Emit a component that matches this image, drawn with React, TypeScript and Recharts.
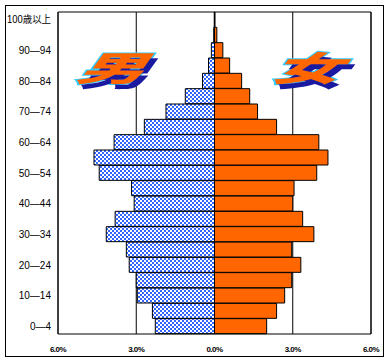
import {
  BarChart,
  Bar,
  XAxis,
  YAxis,
  CartesianGrid,
} from "recharts";

// 年齢階級（下から上へ）
const ageGroups = [
  "0—4", "5—9", "10—14", "15—19", "20—24", "25—29", "30—34", "35—39",
  "40—44", "45—49", "50—54", "55—59", "60—64", "65—69", "70—74",
  "75—79", "80—84", "85—89", "90—94", "95—99", "100歳以上",
];

// 構成比（%）
const maleShare = [
  2.27, 2.38, 2.96, 3.0, 3.27, 3.38, 4.15, 3.81, 3.08, 3.18, 4.42,
  4.62, 3.85, 2.69, 1.86, 1.12, 0.46, 0.23, 0.12, 0.03, 0.01,
];
const femaleShare = [
  2.0, 2.38, 2.69, 2.96, 3.31, 2.96, 3.81, 3.38, 3.0, 3.05, 3.92,
  4.35, 4.0, 2.38, 1.65, 1.35, 1.04, 0.58, 0.32, 0.09, 0.02,
];

const xTicks = [-6, -3, 0, 3, 6];

const data = ageGroups.map((age, i) => ({
  age,
  male: -maleShare[i],
  female: femaleShare[i],
}));

const wordArt = (left: number): React.CSSProperties => ({
  position: "absolute",
  left,
  top: 40,
  fontFamily: "'Noto Sans CJK JP', sans-serif",
  fontWeight: 900,
  fontSize: 36,
  lineHeight: "40px",
  color: "#ff6600",
  WebkitTextStroke: "2px #33ccff",
  paintOrder: "stroke fill",
  textShadow: "4px 5px 0 #1a1aa0",
  transform: "scale(1.9, 0.95) skewX(-20deg)",
  transformOrigin: "center",
  pointerEvents: "none",
});

const AgeTick = (props: any) => {
  const { x, y, payload, index } = props;
  if (index % 2 !== 0) return null;
  const label = String(payload.value);
  const long = label.length > 5;
  return (
    <text
      x={x}
      y={y}
      dy="0.36em"
      textAnchor="end"
      fill="#000"
      fontSize={10}
      fontFamily="'Liberation Sans', 'Noto Sans CJK JP', sans-serif"
      textLength={long ? 44 : undefined}
      lengthAdjust={long ? "spacingAndGlyphs" : undefined}
    >
      {label}
    </text>
  );
};

const line = { stroke: "#000", strokeWidth: 1 };

export default function App() {
  return (
    <div>
      <svg width={0} height={0} style={{ position: "absolute" }}>
        <defs>
          <pattern id="maleDots" width="4" height="4" patternUnits="userSpaceOnUse">
            <rect width="4" height="4" fill="#3366ff" />
            <rect x="0" y="0" width="2" height="2" fill="#ffffff" />
            <rect x="2" y="2" width="2" height="2" fill="#ffffff" />
          </pattern>
        </defs>
      </svg>
      <div
        style={{
          position: "fixed",
          left: 5,
          top: 5,
          width: 377,
          height: 350,
          border: "1px solid #000",
          background: "#fff",
        }}
      >
        <BarChart
          width={377}
          height={350}
          data={data}
          layout="vertical"
          stackOffset="sign"
          barCategoryGap={0}
          margin={{ top: 5, right: 11, bottom: 0, left: 0 }}
        >
          <CartesianGrid
            xAxisId="b"
            yAxisId="l"
            horizontal={false}
            stroke="#000"
            strokeWidth={1}
          />
          <XAxis
            xAxisId="b"
            type="number"
            domain={[-6, 6]}
            ticks={xTicks}
            allowDataOverflow
            height={22}
            stroke="#000"
            axisLine={line}
            tickLine={false}
            tickSize={0}
            tickMargin={12}
            tickFormatter={(v: number) => Math.abs(v).toFixed(1) + "%"}
            tick={{
              fill: "#000",
              fontSize: 8,
              fontWeight: 700,
              fontFamily: "'Liberation Sans', Arial, sans-serif",
              letterSpacing: -0.5,
            }}
          />
          <XAxis
            xAxisId="t"
            orientation="top"
            type="number"
            domain={[-6, 6]}
            height={1}
            stroke="#000"
            tick={false}
            tickLine={false}
            axisLine={line}
          />
          <YAxis
            yAxisId="l"
            type="category"
            dataKey="age"
            reversed
            width={52}
            interval={0}
            stroke="#000"
            axisLine={line}
            tickLine={false}
            tickSize={0}
            tickMargin={7}
            tick={<AgeTick />}
          />
          <YAxis
            yAxisId="r"
            orientation="right"
            type="category"
            dataKey="age"
            reversed
            width={1}
            stroke="#000"
            tick={false}
            tickLine={false}
            axisLine={line}
          />
          <Bar
            xAxisId="b"
            yAxisId="l"
            dataKey="male"
            stackId="p"
            fill="url(#maleDots)"
            stroke="#000"
            strokeWidth={1}
            isAnimationActive={false}
          />
          <Bar
            xAxisId="b"
            yAxisId="l"
            dataKey="female"
            stackId="p"
            fill="#ff6600"
            stroke="#000"
            strokeWidth={1}
            isAnimationActive={false}
          />
        </BarChart>
        <div style={wordArt(96)}>男</div>
        <div style={wordArt(291)}>女</div>
      </div>
    </div>
  );
}
